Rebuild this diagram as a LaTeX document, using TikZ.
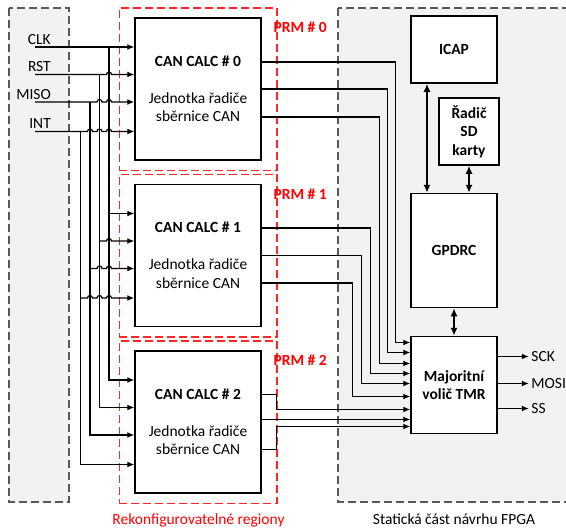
\documentclass[tikz,border=0pt]{standalone}
\usepackage{fontspec}
\setmainfont{Carlito}
\usepackage{xcolor}
\usepackage{tikz}
\usetikzlibrary{arrows.meta,positioning,fit,calc}
\definecolor{sedapozadi}{HTML}{F2F2F2}
\definecolor{sedaca}{HTML}{595959}
\newcommand{\velikost}{\fontsize{15.5}{18.5}\selectfont}
\tikzset{
    blok/.style={
        rectangle,
        draw,
        line width=1.5pt,
        fill=white,
        align=center,
        inner sep=2pt
    },
    modul/.style={blok, minimum width=126pt, minimum height=142pt},
    fpga/.style={blok, font=\velikost\bfseries, minimum width=86pt},
    oblast/.style={draw=sedaca, fill=sedapozadi, line width=1.5pt, dash pattern=on 8pt off 4pt},
    prm/.style={draw=red!85, line width=1.5pt, dash pattern=on 8pt off 4pt, inner xsep=15pt, inner ysep=9.5pt},
    prmpopis/.style={text=red, font=\velikost\bfseries, inner sep=0pt, anchor=west},
    popisek/.style={inner sep=0pt},
    vodic/.style={line width=1.2pt},
    sipka/.style={vodic, -{Latex[length=7pt,width=6pt]}},
    obousmer/.style={line width=1.6pt, {Latex[length=8pt,width=7pt]}-{Latex[length=8pt,width=7pt]}},
    skok/.style={insert path={-- ++(#1,0) arc[start angle=180,end angle=0,radius=2.5pt]}},
    skok/.default=4.5
}

\begin{document}
\begin{tikzpicture}[x=1pt, y=-1pt, font=\velikost]
    \useasboundingbox (0,0) rectangle (566,528);
    \draw[oblast] (9,8) rectangle (69,502);
    \draw[oblast] (338,8) rectangle (590,502);

    \node[modul] (calc0) at (198,89)
        {\textbf{CAN CALC \# 0}\\[18.5pt]Jednotka řadiče\\sběrnice CAN};
    \node[modul, below=23pt of calc0] (calc1)
        {\textbf{CAN CALC \# 1}\\[18.5pt]Jednotka řadiče\\sběrnice CAN};
    \node[modul, below=23pt of calc1] (calc2)
        {\textbf{CAN CALC \# 2}\\[18.5pt]Jednotka řadiče\\sběrnice CAN};
    \node[prm, fit=(calc0)] (prm0) {};
    \node[prm, fit=(calc1)] (prm1) {};
    \node[prm, fit=(calc2)] (prm2) {};
    \node[prmpopis] (prm0-popis) at ([xshift=-4pt,yshift=-20.5pt]prm0.north east) {PRM \# 0};
    \node[prmpopis] (prm1-popis) at ([xshift=-4pt,yshift=-20.5pt]prm1.north east) {PRM \# 1};
    \node[prmpopis] (prm2-popis) at ([xshift=-4pt,yshift=-20.5pt]prm2.north east) {PRM \# 2};

    \node[fpga, minimum height=67pt] (icap) at (454,49.5) {ICAP};
    \node[fpga, minimum width=60pt, minimum height=67pt] (radic) at (469,131.5)
        {Řadič\\SD\\karty};
    \node[fpga, minimum height=114pt, below=109pt of icap] (gpdrc) {GPDRC};
    \node[fpga, minimum height=97pt, below=27.5pt of gpdrc] (volic)
        {Majoritní\\volič TMR};

    \coordinate (clk-in) at (35,47);
    \coordinate (rst-in) at (35,74.5);
    \coordinate (miso-in) at (35,102);
    \coordinate (int-in) at (35,131.5);
    \coordinate (clk-bus) at (109,47);
    \coordinate (rst-bus) at (99.5,74.5);
    \coordinate (miso-bus) at (90,102);
    \coordinate (int-bus) at (80.5,131.5);
    \node[popisek, anchor=base east] (clk) at ([xshift=16pt,yshift=3pt]clk-in) {CLK};
    \node[popisek, anchor=base east] (rst) at ([xshift=16pt,yshift=3pt]rst-in) {RST};
    \node[popisek, anchor=base east] (miso) at ([xshift=16pt,yshift=3pt]miso-in) {MISO};
    \node[popisek, anchor=base east] (int) at ([xshift=16pt,yshift=3pt]int-in) {INT};

    \draw[sipka] (clk-in) -- ([yshift=42pt]calc0.west);
    \draw[sipka] (rst-in) [skok=71.5] -- ([yshift=14.5pt]calc0.west);
    \draw[sipka] (miso-in) [skok=62] [skok] -- ([yshift=-13pt]calc0.west);
    \draw[sipka] (int-in) [skok=52.5] [skok] [skok] -- ([yshift=-42.5pt]calc0.west);
    \draw[sipka] (clk-bus) |- ([yshift=42pt]calc2.west);
    \draw[sipka] (rst-bus) |- ([yshift=14.5pt]calc2.west);
    \draw[sipka] (miso-bus) |- ([yshift=-13pt]calc2.west);
    \draw[sipka] (int-bus) |- ([yshift=-42.5pt]calc2.west);
    \draw[sipka] ([yshift=42pt]calc1.west -| clk-bus) -- ([yshift=42pt]calc1.west);
    \draw[sipka] ([yshift=14.5pt]calc1.west -| rst-bus) [skok=7] -- ([yshift=14.5pt]calc1.west);
    \draw[sipka] ([yshift=-13pt]calc1.west -| miso-bus) [skok=7] [skok] -- ([yshift=-13pt]calc1.west);
    \draw[sipka] ([yshift=-42.5pt]calc1.west -| int-bus) [skok=7] [skok] [skok] -- ([yshift=-42.5pt]calc1.west);

    \draw[sipka] ([yshift=27pt]calc0.east) -| ([xshift=-15pt,yshift=42.5pt]volic.west) -- ([yshift=42.5pt]volic.west);
    \draw[sipka] (calc0.east) -| ([xshift=-23pt,yshift=32.5pt]volic.west) -- ([yshift=32.5pt]volic.west);
    \draw[sipka] ([yshift=-28pt]calc0.east) -| ([xshift=-31pt,yshift=21.5pt]volic.west) -- ([yshift=21.5pt]volic.west);
    \draw[sipka] ([yshift=27.5pt]calc1.east) -| ([xshift=-40pt,yshift=11.5pt]volic.west) -- ([yshift=11.5pt]volic.west);
    \draw[sipka] (calc1.east) -| ([xshift=-49pt,yshift=1.5pt]volic.west) -- ([yshift=1.5pt]volic.west);
    \draw[sipka] ([yshift=-27.5pt]calc1.east) -| ([xshift=-58pt,yshift=-11.5pt]volic.west) -- ([yshift=-11.5pt]volic.west);
    \draw[sipka] ([yshift=27.5pt]calc2.east) -- ++(15,0) |- ([yshift=-24.5pt]volic.west);
    \draw[sipka] ([yshift=2.5pt]calc2.east) -- ([yshift=2.5pt]calc2.east -| volic.west);
    \draw[sipka] ([yshift=-27.5pt]calc2.east) -- ++(15,0) |- ([yshift=-41.5pt]volic.west);

    \draw[obousmer] ([xshift=-27pt]icap.south) -- ([xshift=-27pt]gpdrc.north);
    \draw[obousmer] (radic.south) -- (radic.south |- gpdrc.north);
    \draw[obousmer] (gpdrc) -- (volic);

    \node[popisek, anchor=west, inner sep=2.5pt] (sck) at ([xshift=31pt,yshift=28.5pt]volic.east) {SCK};
    \node[popisek, anchor=west, inner sep=2.5pt] (mosi) at ([xshift=31pt,yshift=1.5pt]volic.east) {MOSI};
    \node[popisek, anchor=west, inner sep=2.5pt] (ss) at ([xshift=31pt,yshift=-23.5pt]volic.east) {SS};
    \draw[sipka] ([yshift=28.5pt]volic.east) -- (sck.west);
    \draw[sipka] ([yshift=1.5pt]volic.east) -- (mosi.west);
    \draw[sipka] ([yshift=-23.5pt]volic.east) -- (ss.west);

    \node[anchor=base, text=red] (rekonf) at (198.5,524.3) {Rekonfigurovatelné regiony};
    \node[anchor=base] (staticka) at (volic |- rekonf.base) {Statická část návrhu FPGA};
\end{tikzpicture}
\end{document}
